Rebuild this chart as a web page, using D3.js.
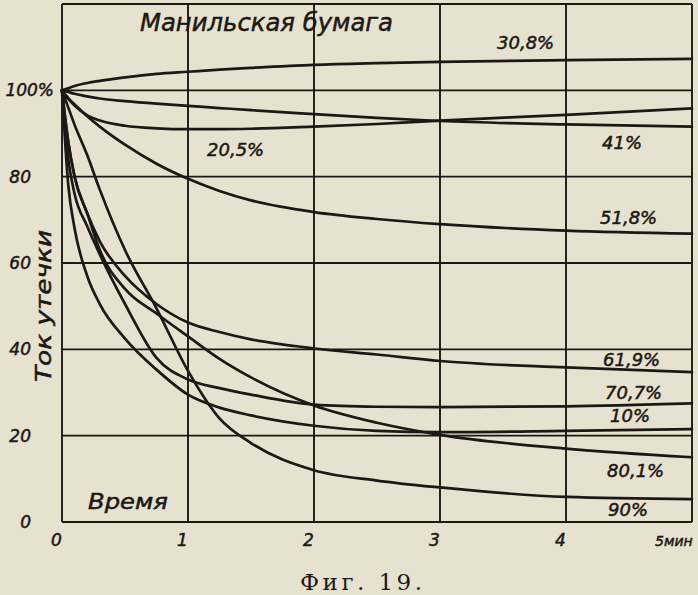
<!DOCTYPE html>
<html>
<head>
<meta charset="utf-8">
<script src="https://cdn.jsdelivr.net/npm/d3@7"></script>
<style>
  html, body { margin: 0; padding: 0; background: #e7e1cf; }
  svg { display: block; }
</style>
</head>
<body>
<svg id="chart" width="698" height="595"></svg>
<script>
// ---- data ----
const times = [0, 0.05, 0.1, 0.2, 0.3, 0.5, 0.75, 1, 1.25, 1.5, 2, 2.5, 3, 4, 5];
const seriesNames = ["30,8%", "20,5%", "41%", "51,8%", "61,9%", "70,7%", "10%", "80,1%", "90%"];
const s308 = [100, 100.5, 101, 101.7, 102.2, 103, 103.8, 104.3, 104.8, 105.2, 105.9, 106.3, 106.6, 107, 107.3];
const s205 = [100, 98, 96.5, 94.2, 93, 91.8, 91.2, 91, 91, 91.1, 91.6, 92.2, 93.0, 94.3, 95.8];
const s41  = [100, 99.6, 99.2, 98.6, 98.1, 97.5, 96.9, 96.4, 95.9, 95.4, 94.5, 93.6, 92.9, 92.1, 91.6];
const s518 = [100, 98.2, 96.7, 94, 91.6, 87.4, 83, 79.5, 76.7, 74.5, 71.8, 70.2, 69, 67.5, 66.8];
const s619 = [100, 88, 80, 71.5, 65, 57, 50.5, 46.2, 44, 42.3, 40.2, 38.8, 37.3, 35.8, 34.7];
const s707 = [100, 84, 76, 68.5, 62, 50.5, 38, 33, 31, 29.5, 27.2, 26.7, 26.6, 26.8, 27.5];
const s10  = [100, 78, 68, 57, 50.5, 42.5, 35.3, 29.5, 26.5, 24.7, 22.3, 21.1, 20.8, 21.1, 21.5];
const s801 = [100, 88, 80, 71.5, 63, 54, 48.3, 43, 37.8, 33.5, 27, 23, 20.2, 17, 15];
const s90  = [100, 96, 92, 85, 77, 63, 49.5, 35, 24, 18.3, 12, 9.6, 8, 5.8, 5.3];
const seriesValues = [s308, s205, s41, s518, s619, s707, s10, s801, s90];
const yTicks = [0, 20, 40, 60, 80, 100, 120];
const yTickLabels = ["0", "20", "40", "60", "80", "100%", ""];
const xTicks = [0, 1, 2, 3, 4, 5];
const xTickLabels = ["0", "1", "2", "3", "4", "5мин"];

// ---- chart ----
const ink = "#1b1915";
const svg = d3.select("#chart");
const x = d3.scaleLinear().domain([0, 5]).range([62, 692]);
const y = d3.scaleLinear().domain([0, 120]).range([522, 4]);

// grid
svg.append("g").selectAll("line").data(yTicks).join("line")
  .attr("x1", x(0)).attr("x2", x(5))
  .attr("y1", d => y(d)).attr("y2", d => y(d))
  .attr("stroke", ink).attr("stroke-width", 1.9);
svg.append("g").selectAll("line").data(xTicks).join("line")
  .attr("x1", d => x(d)).attr("x2", d => x(d))
  .attr("y1", y(0)).attr("y2", y(120))
  .attr("stroke", ink).attr("stroke-width", 1.9);

// curves
const line = d3.line()
  .x((d, i) => x(times[i]))
  .y(d => y(d))
  .curve(d3.curveMonotoneX);
svg.append("g").selectAll("path").data(seriesValues).join("path")
  .attr("d", d => line(d))
  .attr("fill", "none")
  .attr("stroke", ink)
  .attr("stroke-width", 2.7)
  .attr("stroke-linecap", "round");

const font = "'DejaVu Sans', sans-serif";
function styleText(sel, size) {
  return sel.attr("font-family", font).attr("font-style", "italic")
    .attr("font-size", size).attr("fill", ink)
    .attr("stroke", ink).attr("stroke-width", 0.5);
}

// y tick labels
styleText(svg.append("g").selectAll("text").data(yTicks).join("text")
  .attr("x", d => d === 100 ? 54 : 31)
  .attr("y", d => y(d) + 6)
  .attr("text-anchor", "end"), 17)
  .text((d, i) => yTickLabels[i]);

// x tick labels
styleText(svg.append("g").selectAll("text").data(xTicks).join("text")
  .attr("x", d => x(d) - (d === 5 ? 37 : 11))
  .attr("y", 546)
  .attr("text-anchor", "start"), 17)
  .attr("font-size", d => d === 5 ? 14 : 17)
  .text((d, i) => xTickLabels[i]);

// series labels
const labelPos = [[497, 49], [207, 156], [602, 149], [600, 224], [603, 366], [605, 399], [610, 422], [607, 477], [608, 516]];
styleText(svg.append("g").selectAll("text").data(seriesNames).join("text")
  .attr("x", (d, i) => labelPos[i][0])
  .attr("y", (d, i) => labelPos[i][1]), 18)
  .text(d => d);

// title
styleText(svg.append("text")
  .attr("x", 140).attr("y", 31), 25)
  .attr("textLength", 253).attr("lengthAdjust", "spacingAndGlyphs")
  .text("Манильская бумага");

// y axis title
styleText(svg.append("text")
  .attr("transform", "translate(51,382) rotate(-90)"), 21)
  .attr("textLength", 152).attr("lengthAdjust", "spacingAndGlyphs")
  .text("Ток утечки");

// x axis title
styleText(svg.append("text")
  .attr("x", 88).attr("y", 509), 21)
  .attr("textLength", 80).attr("lengthAdjust", "spacingAndGlyphs")
  .text("Время");

// caption
svg.append("text")
  .attr("x", 300).attr("y", 590)
  .attr("font-family", "'DejaVu Serif', serif")
  .attr("font-size", 23).attr("fill", ink)
  .attr("textLength", 122).attr("lengthAdjust", "spacing")
  .text("Фиг. 19.");
</script>
</body>
</html>
